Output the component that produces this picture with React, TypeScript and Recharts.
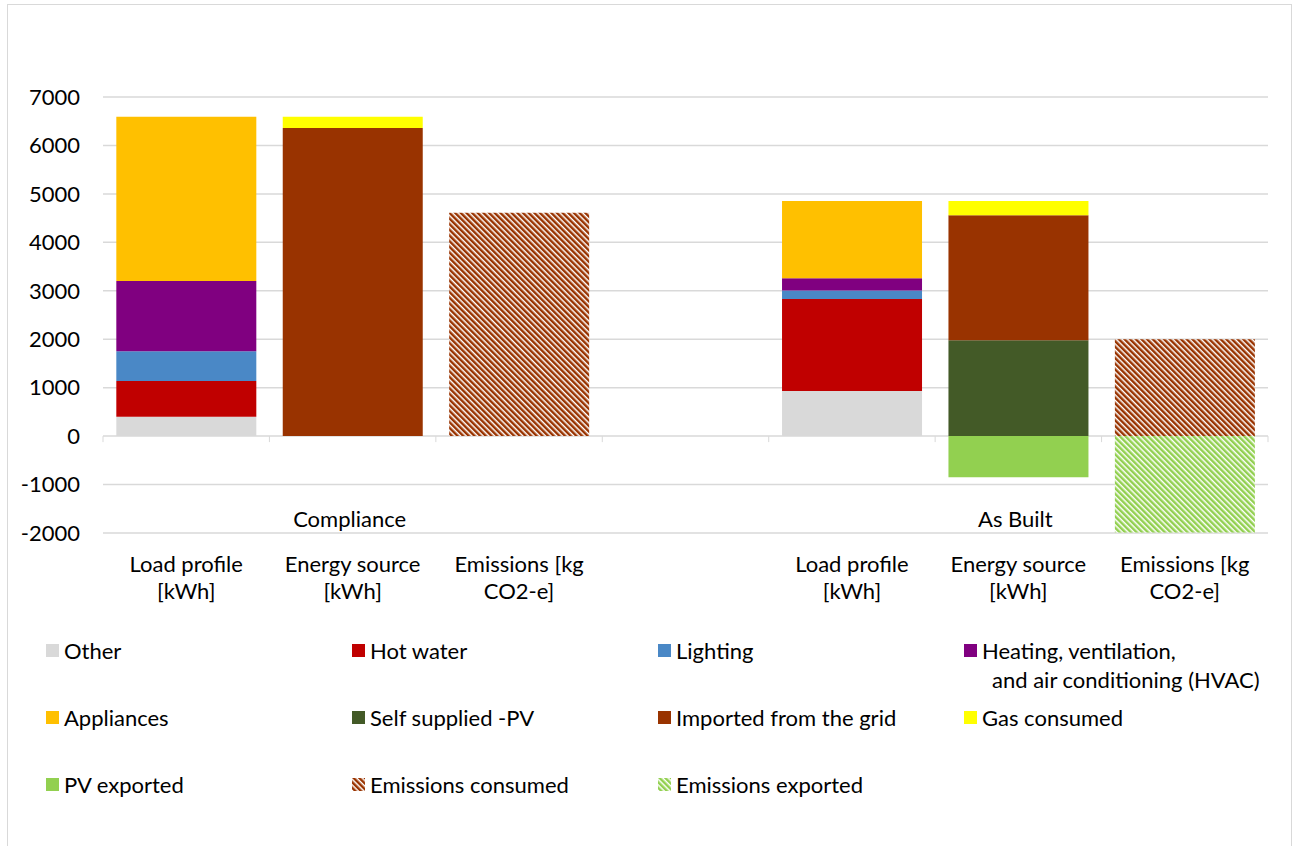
import { BarChart, Bar, XAxis, YAxis, CartesianGrid, Legend } from "recharts";

// ---------------------------------------------------------------------------
// Data
// ---------------------------------------------------------------------------

const categories = ["c0", "c1", "c2", "c3", "c4", "c5", "c6"];

const categoryLines: string[][] = [
  ["Load profile", "[kWh]"],
  ["Energy source", "[kWh]"],
  ["Emissions [kg", "CO2-e]"],
  [],
  ["Load profile", "[kWh]"],
  ["Energy source", "[kWh]"],
  ["Emissions [kg", "CO2-e]"],
];

const groupLabels = ["", "Compliance", "", "", "", "As Built", ""];

const other = [400, 0, 0, 0, 930, 0, 0];
const hotWater = [740, 0, 0, 0, 1900, 0, 0];
const lighting = [610, 0, 0, 0, 175, 0, 0];
const hvac = [1450, 0, 0, 0, 255, 0, 0];
const appliances = [3390, 0, 0, 0, 1595, 0, 0];
const selfPV = [0, 0, 0, 0, 0, 1980, 0];
const imported = [0, 6360, 0, 0, 0, 2580, 0];
const gas = [0, 230, 0, 0, 0, 295, 0];
const pvExported = [0, 0, 0, 0, 0, -850, 0];
const emissionsConsumed = [0, 0, 4610, 0, 0, 0, 2000];
const emissionsExported = [0, 0, 0, 0, 0, 0, -1990];

const yTicks = [-2000, -1000, 0, 1000, 2000, 3000, 4000, 5000, 6000, 7000];

// ---------------------------------------------------------------------------
// Layout / style
// ---------------------------------------------------------------------------

const CHART_W = 1283;
const CHART_H = 846;
const MARGIN = { top: 92, right: 23, bottom: 238, left: 19 };
const X_AXIS_H = 80;
const Y_AXIS_W = 76;
const Y_MIN = -2000;
const Y_MAX = 7000;
const PLOT_H = CHART_H - MARGIN.top - MARGIN.bottom - X_AXIS_H;
const PLOT_W = CHART_W - MARGIN.left - MARGIN.right - Y_AXIS_W;

const GRID = "#d9d9d9";
const FONT = "Lato, 'Noto Sans', sans-serif";
const TEXT = "#000";

const series = [
  { key: "other", name: "Other", data: other, fill: "#d9d9d9" },
  { key: "hotWater", name: "Hot water", data: hotWater, fill: "#c00000" },
  { key: "lighting", name: "Lighting", data: lighting, fill: "#4a88c6" },
  { key: "hvac", name: "Heating, ventilation,|and air conditioning (HVAC)", data: hvac, fill: "#800080" },
  { key: "appliances", name: "Appliances", data: appliances, fill: "#ffc000" },
  { key: "selfPV", name: "Self supplied -PV", data: selfPV, fill: "#435a27" },
  { key: "imported", name: "Imported from the grid", data: imported, fill: "#993300" },
  { key: "gas", name: "Gas consumed", data: gas, fill: "#ffff00" },
  { key: "pvExported", name: "PV exported", data: pvExported, fill: "#92d050" },
  { key: "emissionsConsumed", name: "Emissions consumed", data: emissionsConsumed, fill: "url(#stripeBrown)" },
  { key: "emissionsExported", name: "Emissions exported", data: emissionsExported, fill: "url(#stripeGreen)" },
];

const data = categories.map((cat, i) => {
  const row: Record<string, string | number> = { cat };
  series.forEach((s) => {
    row[s.key] = s.data[i];
  });
  return row;
});

function StripeDefs() {
  return (
    <defs>
      <pattern id="stripeBrown" patternUnits="userSpaceOnUse" width="4" height="4" patternTransform="rotate(-45)">
        <rect x="0" y="0" width="4" height="4" fill="#fff" />
        <rect x="0" y="0" width="2.5" height="4" fill="#993300" />
      </pattern>
      <pattern id="stripeGreen" patternUnits="userSpaceOnUse" width="4" height="4" patternTransform="rotate(-45)">
        <rect x="0" y="0" width="4" height="4" fill="#fff" />
        <rect x="0" y="0" width="2.5" height="4" fill="#92d050" />
      </pattern>
    </defs>
  );
}

// ---------------------------------------------------------------------------
// Category tick: labels below plot, tick marks on the zero line, group names
// ---------------------------------------------------------------------------

function CategoryTick(props: any) {
  const { x, y, index } = props;
  const lines = categoryLines[index] ?? [];
  const zeroY = y - (PLOT_H * (0 - Y_MIN)) / (Y_MAX - Y_MIN);
  const slot = PLOT_W / categories.length;
  const left = x - slot / 2;
  const group = groupLabels[index];
  return (
    <g>
      <line x1={left} x2={left} y1={zeroY} y2={zeroY + 6} stroke={GRID} />
      {index === categories.length - 1 && (
        <line x1={left + slot} x2={left + slot} y1={zeroY} y2={zeroY + 6} stroke={GRID} />
      )}
      {lines.map((l, i) => (
        <text key={i} x={x} y={y + 39 + i * 27} textAnchor="middle" fontSize={22} fill={TEXT} fontFamily={FONT}>
          {l}
        </text>
      ))}
      {group && (
        <text x={x - 3} y={y - 6} textAnchor="middle" fontSize={22} fill={TEXT} fontFamily={FONT}>
          {group}
        </text>
      )}
    </g>
  );
}

// ---------------------------------------------------------------------------
// Legend: 4-column grid like the Excel original
// ---------------------------------------------------------------------------

function LegendGrid() {
  return (
    <div
      style={{
        display: "grid",
        gridTemplateColumns: "repeat(4, 306px)",
        gridAutoRows: "67px",
        paddingLeft: 38,
        fontFamily: FONT,
        fontSize: 22,
        lineHeight: "29px",
        color: TEXT,
      }}
    >
      {series.map((s) => {
        const parts = s.name.split("|");
        return (
          <div key={s.key} style={{ display: "flex", alignItems: "flex-start" }}>
            <svg width={13} height={13} style={{ marginTop: 8, marginRight: 5, flex: "none" }}>
              <StripeDefs />
              <rect width={13} height={13} fill={s.fill} />
            </svg>
            <div>
              {parts.map((p, i) => (
                <div key={i} style={{ paddingLeft: i > 0 ? 10 : 0, whiteSpace: "nowrap" }}>
                  {p}
                </div>
              ))}
            </div>
          </div>
        );
      })}
    </div>
  );
}

// ---------------------------------------------------------------------------
// Component
// ---------------------------------------------------------------------------

export default function App() {
  return (
    <div
      style={{
        position: "absolute",
        left: 7,
        top: 4,
        width: CHART_W,
        height: 900,
        border: `1px solid ${GRID}`,
        background: "#fff",
        fontFamily: FONT,
      }}
    >
      <BarChart
        width={CHART_W}
        height={CHART_H}
        data={data}
        margin={MARGIN}
        stackOffset="sign"
        barCategoryGap="8%"
      >
        <StripeDefs />
        <CartesianGrid vertical={false} stroke={GRID} strokeWidth={1.5} />
        <XAxis
          dataKey="cat"
          interval={0}
          axisLine={false}
          tickLine={false}
          tickSize={0}
          tickMargin={0}
          height={X_AXIS_H}
          tick={(p: any) => <CategoryTick {...p} />}
        />
        <YAxis
          width={Y_AXIS_W}
          domain={[Y_MIN, Y_MAX]}
          ticks={yTicks}
          interval={0}
          axisLine={false}
          tickLine={false}
          tickMargin={17}
          tick={{ fontSize: 22, fill: TEXT, fontFamily: FONT }}
        />
        {series.map((s) => (
          <Bar
            key={s.key}
            dataKey={s.key}
            name={s.name}
            stackId="a"
            fill={s.fill}
            isAnimationActive={false}
          />
        ))}
        <Legend
          layout="horizontal"
          verticalAlign="middle"
          align="center"
          wrapperStyle={{ top: 631, left: 0, width: CHART_W }}
          content={() => <LegendGrid />}
        />
      </BarChart>
    </div>
  );
}
